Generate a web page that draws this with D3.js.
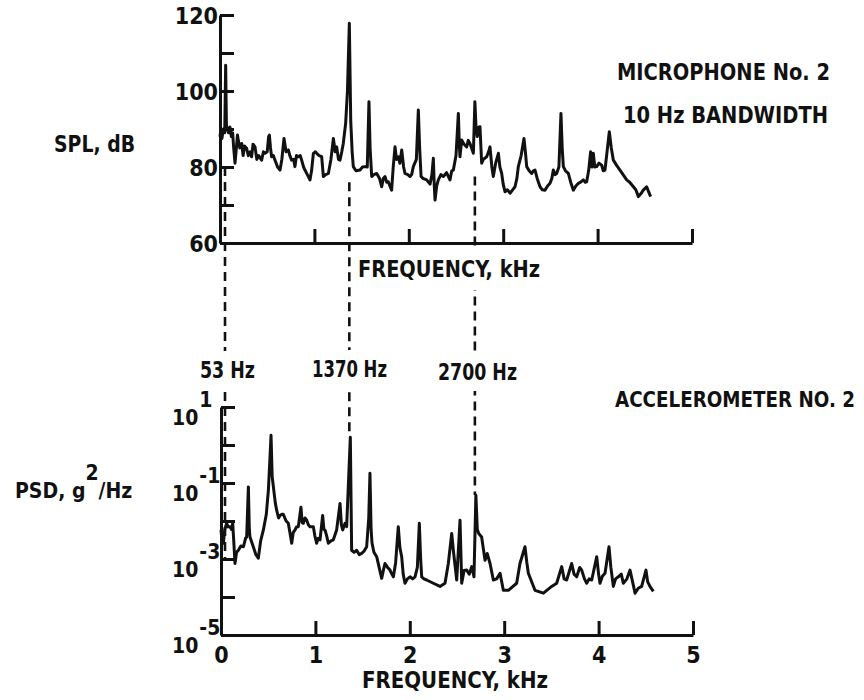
<!DOCTYPE html>
<html>
<head>
<meta charset="utf-8">
<script src="https://cdn.jsdelivr.net/npm/d3@7"></script>
<style>
  body { margin: 0; background: #fff; }
  svg text {
    font-family: "Liberation Sans Narrow", "DejaVu Sans Condensed", sans-serif;
    font-weight: bold;
    font-size: 23px;
    fill: #111;
  }
  svg text.small { font-size: 21px; }
</style>
</head>
<body>
<div id="vis"></div>
<script>
// microphone no. 2 spectrum: [frequency kHz, SPL dB]
const micSpectrum = [
  [0.000, 88], [0.010, 90], [0.020, 87.5], [0.035, 90], [0.050, 89], [0.060, 106.8],
  [0.068, 91], [0.078, 90], [0.090, 89], [0.106, 90.5], [0.120, 88], [0.134, 89],
  [0.145, 85], [0.159, 81], [0.170, 84], [0.185, 88.4], [0.194, 87], [0.210, 85],
  [0.230, 86.2], [0.245, 83], [0.260, 85.5], [0.282, 84.9], [0.300, 83], [0.320, 84],
  [0.335, 82.7], [0.350, 86], [0.371, 85.3], [0.390, 82], [0.410, 83], [0.441, 81.8],
  [0.460, 84], [0.477, 83.6], [0.500, 84], [0.515, 88], [0.523, 88.4], [0.535, 85],
  [0.547, 82.7], [0.565, 83], [0.583, 81.8], [0.610, 80], [0.636, 79.2], [0.655, 82],
  [0.678, 87.5], [0.700, 84], [0.724, 84.5], [0.740, 83], [0.759, 81.8], [0.780, 82],
  [0.794, 80.1], [0.810, 83], [0.830, 82.7], [0.850, 83], [0.865, 81.8], [0.885, 80],
  [0.900, 79.2], [0.925, 78], [0.953, 76.6], [0.970, 79], [0.989, 83.6], [1.010, 84],
  [1.024, 83.6], [1.050, 83], [1.077, 82.7], [1.095, 77.5], [1.120, 78], [1.148, 78.3],
  [1.175, 82], [1.201, 87.5], [1.220, 84], [1.236, 85.3], [1.255, 82], [1.271, 81.8],
  [1.290, 84], [1.306, 86.2], [1.331, 91.5], [1.350, 100], [1.370, 117.8], [1.385, 92],
  [1.400, 84], [1.412, 80.1], [1.440, 79], [1.483, 79.2], [1.510, 80], [1.536, 80.1],
  [1.560, 80], [1.578, 97.2], [1.590, 85], [1.607, 77.5], [1.630, 78], [1.660, 78.3],
  [1.690, 77], [1.713, 74.8], [1.730, 77], [1.748, 77.5], [1.765, 76], [1.783, 76.1],
  [1.800, 75], [1.818, 73.9], [1.835, 80], [1.854, 85.3], [1.870, 82], [1.889, 82.7],
  [1.905, 81], [1.925, 84.5], [1.945, 80], [1.960, 78.3], [1.990, 78], [2.013, 77.5],
  [2.030, 78], [2.048, 80.1], [2.080, 82], [2.101, 95.0], [2.115, 85], [2.130, 77.5],
  [2.150, 77], [2.189, 76.6], [2.225, 75.5], [2.245, 78], [2.260, 82.3], [2.270, 75],
  [2.278, 71.3], [2.295, 75], [2.313, 76.6], [2.340, 78], [2.366, 77.5], [2.400, 78.5],
  [2.436, 76.6], [2.455, 79], [2.472, 79.2], [2.500, 83], [2.525, 94.1], [2.535, 86],
  [2.542, 82.7], [2.560, 87.1], [2.585, 86], [2.613, 85.3], [2.630, 87], [2.648, 86.2],
  [2.665, 85], [2.684, 83.6], [2.700, 97.2], [2.712, 90.6], [2.725, 88], [2.740, 90.5],
  [2.754, 90.6], [2.772, 81], [2.790, 82], [2.825, 82.7], [2.845, 84], [2.860, 85.3],
  [2.880, 80], [2.895, 77.5], [2.920, 81], [2.949, 83.6], [2.965, 80], [2.984, 78.3],
  [3.000, 75.5], [3.019, 73.5], [3.045, 74], [3.072, 73.1], [3.100, 74], [3.125, 74.8],
  [3.145, 77], [3.160, 80.1], [3.190, 83], [3.220, 87.5], [3.235, 84], [3.249, 80.1],
  [3.275, 79], [3.302, 78.3], [3.320, 79], [3.337, 79.2], [3.360, 77], [3.390, 74.8],
  [3.415, 74], [3.443, 73.9], [3.470, 75], [3.496, 75.7], [3.515, 77], [3.531, 79.2],
  [3.550, 78], [3.566, 78.3], [3.590, 80], [3.612, 94.1], [3.625, 85], [3.637, 80.1],
  [3.660, 79], [3.690, 78.3], [3.715, 76], [3.743, 73.9], [3.770, 75], [3.796, 75.7],
  [3.820, 76], [3.849, 76.6], [3.870, 76], [3.884, 76.1], [3.905, 79], [3.926, 84.0],
  [3.940, 80], [3.955, 83.6], [3.970, 80], [3.990, 80.1], [4.015, 81], [4.043, 80.5],
  [4.060, 79], [4.078, 79.2], [4.100, 84], [4.124, 89.3], [4.145, 85], [4.167, 81.8],
  [4.200, 80.5], [4.237, 79.2], [4.270, 78], [4.308, 76.6], [4.340, 76], [4.379, 74.8],
  [4.405, 74], [4.432, 72.2], [4.460, 73], [4.484, 73.9], [4.520, 74.8], [4.540, 73.5],
  [4.562, 72.2]
];

// accelerometer no. 2 spectrum: [frequency kHz, PSD g^2/Hz]
const accelSpectrum = [
  [0.000, 5.8e-3], [0.012, 2.6e-3], [0.025, 2.6e-3], [0.040, 6e-3], [0.060, 8.7e-3],
  [0.075, 7e-3], [0.095, 7.1e-3], [0.110, 6e-3], [0.124, 8.7e-3], [0.135, 3e-3],
  [0.148, 7.6e-4], [0.165, 1.5e-3], [0.184, 1.7e-3], [0.210, 2.2e-3], [0.237, 2.1e-3],
  [0.260, 3.5e-3], [0.272, 3.8e-3], [0.290, 7.9e-2], [0.300, 6e-3], [0.307, 3.8e-3],
  [0.342, 2.1e-3], [0.370, 1.3e-3], [0.395, 1.05e-3], [0.420, 3e-3], [0.449, 5.8e-3],
  [0.480, 1.5e-2], [0.502, 6.5e-2], [0.530, 1.8], [0.542, 0.15], [0.555, 7.9e-2],
  [0.575, 3e-2], [0.590, 1.9e-2], [0.610, 1.2e-2], [0.625, 1.4e-2], [0.645, 1.5e-2],
  [0.660, 1.5e-2], [0.690, 1.0e-2], [0.713, 8.7e-3], [0.730, 5e-3], [0.749, 2.6e-3],
  [0.765, 5e-3], [0.784, 5.8e-3], [0.800, 7e-3], [0.819, 7.1e-3], [0.847, 2.3e-2],
  [0.860, 9e-3], [0.872, 8.7e-3], [0.890, 1.2e-2], [0.908, 1.05e-2], [0.925, 8e-3],
  [0.943, 7.1e-3], [0.978, 7.1e-3], [0.995, 4e-3], [1.013, 2.6e-3], [1.030, 3.5e-3],
  [1.049, 3.2e-3], [1.077, 1.4e-2], [1.090, 6e-3], [1.102, 5.8e-3], [1.120, 4e-3],
  [1.137, 2.6e-3], [1.165, 3e-3], [1.190, 3.2e-3], [1.225, 5.8e-3], [1.261, 2.9e-2],
  [1.275, 8e-3], [1.289, 5.8e-3], [1.314, 8.7e-3], [1.331, 7.1e-3], [1.350, 0.1],
  [1.370, 1.6], [1.384, 1.7e-3], [1.410, 1.5e-3], [1.437, 1.7e-3], [1.465, 1.3e-3],
  [1.490, 1.4e-3], [1.515, 1.6e-3], [1.543, 2.1e-3], [1.565, 1.2e-2], [1.578, 0.18],
  [1.590, 6e-3], [1.600, 2.6e-3], [1.620, 1.5e-3], [1.649, 1.15e-3], [1.675, 6e-4],
  [1.702, 3.1e-4], [1.720, 5e-4], [1.737, 7.6e-4], [1.765, 6e-4], [1.790, 5.1e-4],
  [1.810, 4e-4], [1.826, 3.4e-4], [1.850, 8e-4], [1.878, 7.1e-3], [1.895, 2e-3],
  [1.914, 1.15e-3], [1.930, 4e-4], [1.949, 2.3e-4], [1.975, 3e-4], [2.002, 3.4e-4],
  [2.030, 3e-4], [2.055, 3.4e-4], [2.080, 6e-4], [2.101, 8.7e-3], [2.115, 1e-3],
  [2.126, 3.4e-4], [2.150, 3e-4], [2.179, 2.8e-4], [2.249, 2.3e-4], [2.320, 1.9e-4],
  [2.373, 2.3e-4], [2.408, 7.6e-4], [2.444, 4.7e-3], [2.461, 1.7e-3], [2.497, 2.8e-4],
  [2.532, 1.05e-2], [2.550, 2.3e-4], [2.575, 5e-4], [2.603, 5.1e-4], [2.630, 4e-4],
  [2.656, 6.3e-4], [2.680, 3.4e-4], [2.700, 4.8e-2], [2.715, 6e-3], [2.730, 4.7e-3],
  [2.761, 3.8e-3], [2.797, 9.3e-4], [2.820, 1.4e-3], [2.850, 7.6e-4], [2.885, 2.8e-4],
  [2.920, 3e-4], [2.956, 4.2e-4], [2.991, 1.5e-4], [3.044, 1.5e-4], [3.132, 2.3e-4],
  [3.167, 7.6e-4], [3.220, 2.1e-3], [3.240, 8e-4], [3.256, 4.2e-4], [3.326, 1.5e-4],
  [3.415, 1.26e-4], [3.503, 1.9e-4], [3.556, 2.3e-4], [3.609, 6.3e-4], [3.635, 3e-4],
  [3.662, 2.8e-4], [3.715, 7.6e-4], [3.740, 4e-4], [3.768, 3.4e-4], [3.800, 6e-4],
  [3.821, 5.1e-4], [3.850, 3e-4], [3.874, 2.3e-4], [3.900, 3e-4], [3.927, 2.8e-4],
  [3.980, 1.15e-3], [4.000, 4e-4], [4.015, 2.3e-4], [4.040, 3.5e-4], [4.068, 4.2e-4],
  [4.110, 2.1e-3], [4.130, 6e-4], [4.156, 1.9e-4], [4.180, 3e-4], [4.209, 3.4e-4],
  [4.240, 4e-4], [4.262, 2.3e-4], [4.300, 3e-4], [4.333, 5.1e-4], [4.360, 2.5e-4],
  [4.386, 1.26e-4], [4.420, 1.7e-4], [4.456, 1.9e-4], [4.502, 5.1e-4], [4.520, 2.5e-4],
  [4.544, 1.9e-4], [4.580, 1.4e-4]
];

// axis ticks and labels
const freqTicks = [1, 2, 3, 4, 5];
const freqLabels = [0, 1, 2, 3, 4, 5];
const splTicks = [60, 70, 80, 90, 100, 110, 120];
const splLabels = [60, 80, 100, 120];
const psdTicks = [1e-5, 1e-4, 1e-3, 1e-2, 1e-1, 1e0, 1e1];
const psdLabelExps = [1, -1, -3, -5];

// marked tones, with where each dashed line starts (SPL) and ends (PSD)
const toneFreqs = [0.053, 1.37, 2.70];
const toneLabels = ["53 Hz", "1370 Hz", "2700 Hz"];
const toneTopDb = [80, 76, 77.5];
const toneBottomPsd = [1e-3, 1.6, 0.048];

const width = 864;
const height = 700;

const svg = d3
  .select("#vis")
  .append("svg")
  .attr("width", width)
  .attr("height", height);

// scales for both panels
const xTop = d3.scaleLinear().domain([0, 5]).range([220, 692]);
const yTop = d3.scaleLinear().domain([60, 120]).range([243, 15]);
const xBot = d3.scaleLinear().domain([0, 5]).range([221, 693]);
const yBot = d3.scaleLog().domain([1e-5, 10]).range([635, 407]);

const tickLen = 14;
const ink = "#111";

// thick black strokes, page font for the labels
function styleAxis(g) {
  g.selectAll("path, line")
    .attr("stroke", ink)
    .attr("stroke-width", 3);
  g.selectAll("text").attr("font-family", null).attr("font-size", null);
}

// top panel axes
const topX = svg
  .append("g")
  .attr("transform", `translate(0,${yTop(60)})`)
  .call(
    d3.axisBottom(xTop)
      .tickValues(freqTicks)
      .tickSizeInner(-tickLen)
      .tickSizeOuter(0)
      .tickFormat("")
  );
styleAxis(topX);

const topY = svg
  .append("g")
  .attr("transform", `translate(${xTop(0)},0)`)
  .call(
    d3.axisLeft(yTop)
      .tickValues(splTicks)
      .tickSizeInner(-tickLen)
      .tickSizeOuter(0)
      .tickPadding(2)
      .tickFormat((d) => (splLabels.includes(d) ? d : ""))
  );
styleAxis(topY);
topY.selectAll("text").attr("dy", "0.36em");

// bottom panel axes
const botX = svg
  .append("g")
  .attr("transform", `translate(0,${yBot(1e-5)})`)
  .call(
    d3.axisBottom(xBot)
      .tickValues(freqLabels)
      .tickSizeInner(-tickLen)
      .tickSizeOuter(0)
      .tickPadding(12)
      .tickFormat((d) => d)
  );
styleAxis(botX);
botX.selectAll(".tick").filter((d) => d === 0).select("line").remove();

const botY = svg
  .append("g")
  .attr("transform", `translate(${xBot(0)},0)`)
  .call(
    d3.axisLeft(yBot)
      .tickValues(psdTicks)
      .tickSizeInner(-tickLen)
      .tickSizeOuter(0)
      .tickFormat("")
  );
styleAxis(botY);

// decade labels as 10 with a raised exponent
const expLabels = svg
  .append("g")
  .selectAll("text")
  .data(psdLabelExps)
  .enter()
  .append("text")
  .classed("small", true)
  .attr("x", 172)
  .attr("y", (d) => yBot(Math.pow(10, d)) + 18);
expLabels.append("tspan").text("10");
expLabels
  .append("tspan")
  .attr("dx", 1)
  .attr("dy", -18)
  .text((d) => d);

// spectrum traces
const micLine = d3.line().x((d) => xTop(d[0])).y((d) => yTop(d[1]));
const accelLine = d3.line().x((d) => xBot(d[0])).y((d) => yBot(d[1]));

svg.append("path")
  .datum(micSpectrum)
  .attr("d", micLine)
  .attr("fill", "none")
  .attr("stroke", ink)
  .attr("stroke-width", 3)
  .attr("stroke-linejoin", "round");

svg.append("path")
  .datum(accelSpectrum)
  .attr("d", accelLine)
  .attr("fill", "none")
  .attr("stroke", ink)
  .attr("stroke-width", 3)
  .attr("stroke-linejoin", "round");

// dashed lines linking the tones in both panels
svg.append("g")
  .selectAll("line")
  .data(toneFreqs)
  .enter()
  .append("line")
  .attr("x1", (d) => xTop(d))
  .attr("x2", (d) => xTop(d))
  .attr("y1", (d, i) => yTop(toneTopDb[i]))
  .attr("y2", (d, i) => yBot(toneBottomPsd[i]))
  .attr("stroke", ink)
  .attr("stroke-width", 2.6)
  .attr("stroke-dasharray", "9,6");

// text that sits over a dashed line gets a white box behind it
function knockout(text, padX, padY) {
  const b = text.node().getBBox();
  svg.insert("rect", () => text.node())
    .attr("x", b.x - padX)
    .attr("y", b.y - padY)
    .attr("width", b.width + 2 * padX)
    .attr("height", b.height + 2 * padY)
    .attr("fill", "#fff");
}

// plain label fitted to the width it has in the figure
function label(x, y, str, len) {
  return svg.append("text")
    .attr("x", x)
    .attr("y", y)
    .attr("textLength", len)
    .attr("lengthAdjust", "spacingAndGlyphs")
    .text(str);
}

const toneTextX = [200, 312, 438];
const toneTextY = [378, 377, 380];
const toneTextLen = [55, 75, 79];
toneLabels.forEach((str, i) => {
  const t = label(toneTextX[i], toneTextY[i], str, toneTextLen[i]);
  knockout(t, 2, 6);
});

// axis titles
const topTitle = label(358, 277, "FREQUENCY, kHz", 182);
knockout(topTitle, 2, 8);
label(362, 688, "FREQUENCY, kHz", 186);
label(54, 152, "SPL, dB", 81);

const psdTitle = svg.append("text")
  .classed("small", true)
  .attr("x", 15)
  .attr("y", 498);
psdTitle.append("tspan").text("PSD, g");
psdTitle.append("tspan").attr("dy", -18).text("2");
psdTitle.append("tspan").attr("dy", 18).text("/Hz");

// panel captions
label(617, 80, "MICROPHONE No. 2", 213);
label(623, 123, "10 Hz BANDWIDTH", 205);
label(855, 407, "ACCELEROMETER NO. 2", 240)
  .classed("small", true)
  .attr("text-anchor", "end");
</script>
</body>
</html>
